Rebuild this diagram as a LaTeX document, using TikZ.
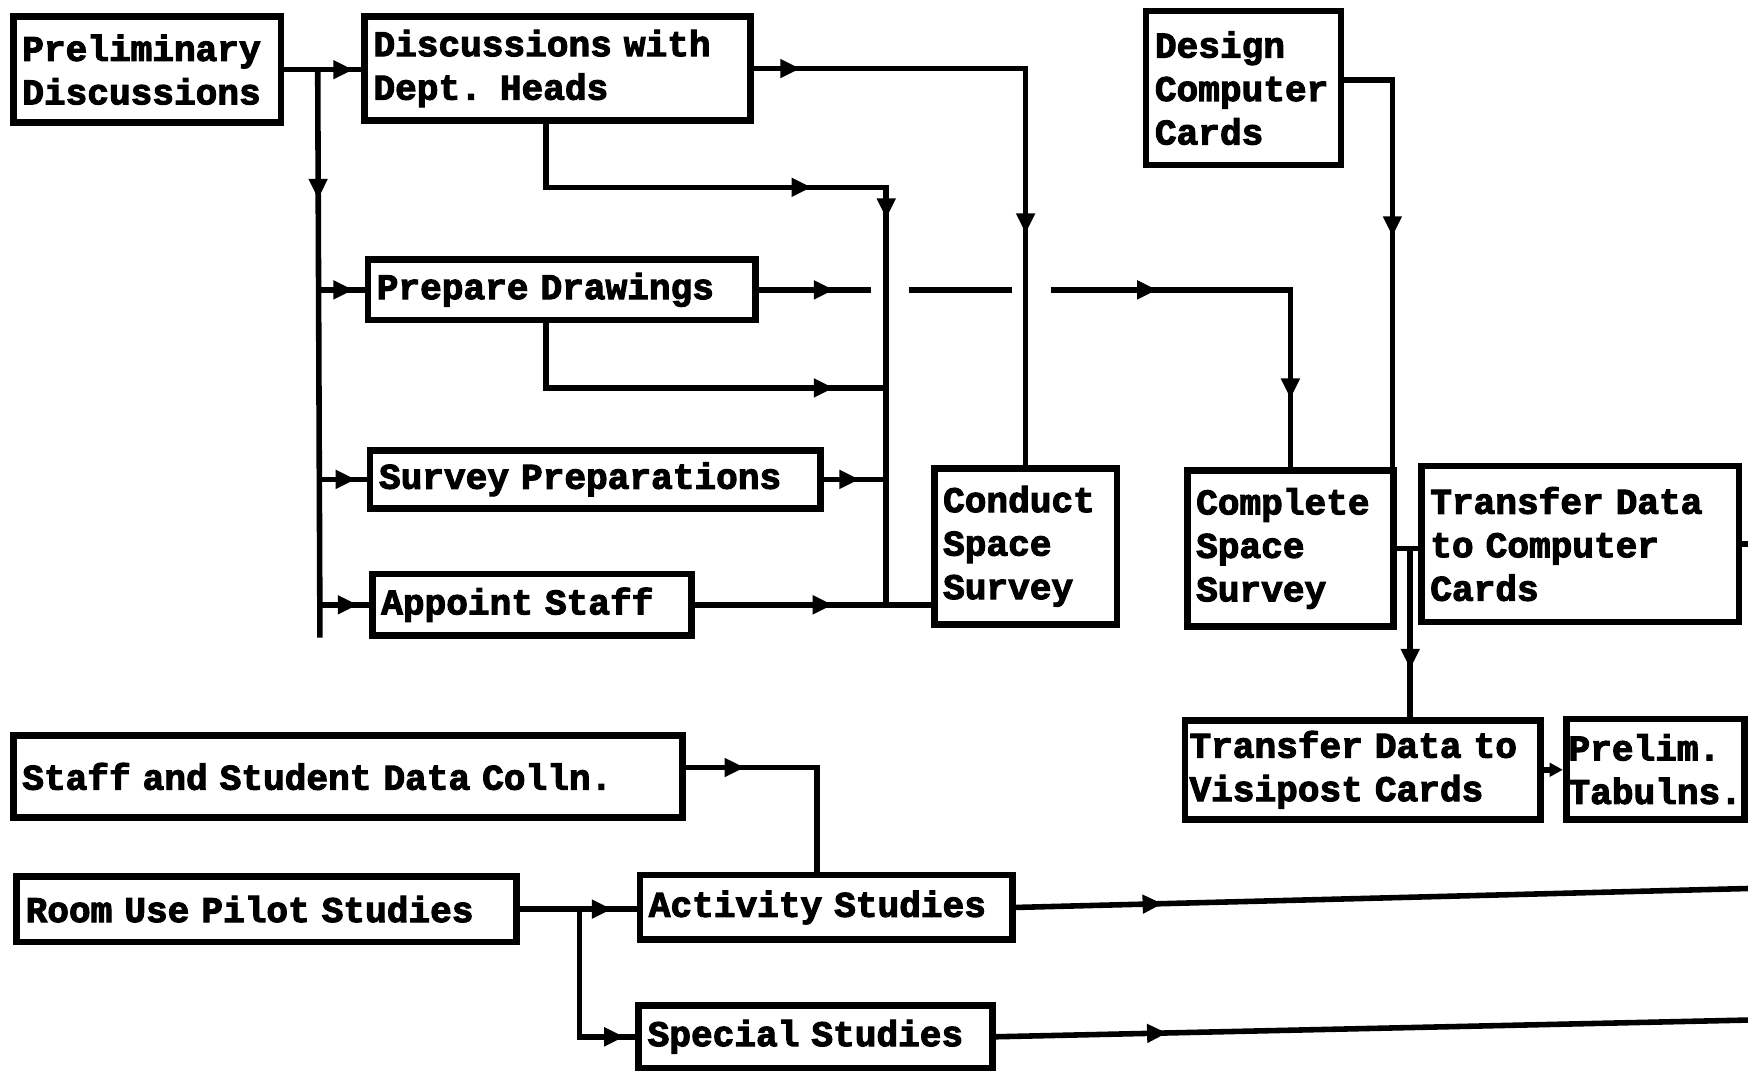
\documentclass[tikz,border=0pt]{standalone}
\usepackage{fontspec}
\newfontfamily\tw{Liberation Mono}[BoldFeatures={FakeBold=3}]
\usetikzlibrary{arrows.meta,decorations.markings}
\tikzset{
  box/.style={draw, line width=3pt, align=left, inner xsep=4pt, inner ysep=2pt,
    font=\tw\bfseries\fontsize{16.2}{19.5}\selectfont},
  conn/.style={line width=2.5pt},
  am/.style={postaction={decorate, decoration={markings,
      mark=at position #1 with {\arrow{Triangle[length=9pt,width=8pt]}}}}},
}
\begin{document}
\begin{tikzpicture}[x=0.5pt, y=-0.5pt]
\fill[white] (0,0) rectangle (1568,960);
\useasboundingbox (0,0) rectangle (1568,960);
% boxes
\node[box, minimum width=120pt, minimum height=47.5pt, text width=112pt] (prelim) at (132,62.5) {Preliminary\\Discussions};
\node[box, minimum width=173pt, minimum height=46.5pt, text width=165pt] (disc) at (500,61.5) {Discussions with\\Dept. Heads};
\node[box, minimum width=87.5pt, minimum height=69pt, text width=79.5pt] (design) at (1115.5,79) {Design\\Computer\\Cards};
\node[box, minimum width=174pt, minimum height=27pt, text width=166pt] (prep) at (504,260) {Prepare Drawings};
\node[box, minimum width=202pt, minimum height=26pt, text width=194pt] (survey) at (534,430) {Survey Preparations};
\node[box, minimum width=143pt, minimum height=27.5pt, text width=135pt] (appoint) at (477,542.5) {Appoint Staff};
\node[box, minimum width=82pt, minimum height=70pt, text width=74pt] (conduct) at (920,490) {Conduct\\Space\\Survey};
\node[box, minimum width=92.5pt, minimum height=70pt, text width=84.5pt] (complete) at (1157.5,492) {Complete\\Space\\Survey};
\node[box, minimum width=142.5pt, minimum height=70pt, text width=134.5pt] (transfer) at (1417.5,488) {Transfer Data\\to Computer\\Cards};
\node[box, inner xsep=2pt, minimum width=159.5pt, minimum height=44.5pt, text width=155.5pt] (visipost) at (1222.5,690.5) {Transfer Data to\\Visipost Cards};
\node[box, inner xsep=1pt, minimum width=80pt, minimum height=45pt, text width=78pt] (tabulns) at (1485,690) {Prelim.\\Tabulns.};
\node[box, minimum width=300pt, minimum height=36.5pt, text width=292pt] (staff) at (312,696.5) {Staff and Student Data Colln.};
\node[box, minimum width=224pt, minimum height=29.5pt, text width=216pt] (room) at (239,815.5) {Room Use Pilot Studies};
\node[box, minimum width=167pt, minimum height=29pt, text width=159pt] (activity) at (741,814) {Activity Studies};
\node[box, minimum width=158.5pt, minimum height=28pt, text width=150.5pt] (special) at (731.5,930) {Special Studies};
% coordinates
\coordinate (tr) at (285,62.5);
\coordinate (trb) at (287,572);
\coordinate (cA) at (795,168);
\coordinate (cB) at (795,542.5);
\coordinate (cC) at (795,348);
\coordinate (jn) at (1265,492);
\coordinate (eK) at (1568,488);
\coordinate (rj) at (520,815.5);
\coordinate (eN) at (1568,797);
\coordinate (eO) at (1568,915);
% connectors
\draw[conn, am=31pt] (prelim.east) -- (prelim.east -| disc.west);
\draw[conn, am=58pt] (tr) -- (trb);
\draw[conn, am=-5pt] (tr |- prep.west) -- (prep.west);
\draw[conn, am=-5pt] (tr |- survey.west) -- (survey.west);
\draw[conn, am=-5pt] (tr |- appoint.west) -- (appoint.west);
\draw[conn, am=21pt, am=196pt] (disc.east) -| (conduct.north);
\draw[conn, am=147.5pt, am=195pt] ([xshift=-5pt]disc.south) |- (cA) -- (cB);
\draw[conn, am=158pt] ([xshift=-7pt]prep.south) |- (cC);
\draw[conn, am=-12pt] (survey.east) -- (survey.east -| cA);
\draw[conn, am=62pt] (appoint.east) -- (appoint.east -| conduct.west);
\draw[conn, dash pattern=on 50pt off 17pt on 46.5pt off 17.5pt on 600pt,
      am=33.5pt, am=178.5pt, am=287pt] (prep.east) -| (complete.north);
\draw[conn, am=91.5pt] ([yshift=3.5pt]design.east) -| ([xshift=-2pt]complete.north east);
\draw[conn] (complete.east) -- (complete.east -| transfer.west);
\draw[conn, am=54pt] (jn) -- (jn |- visipost.north);
\draw[conn, -{Triangle[length=6pt,width=6pt]}] (visipost.east) -- (visipost.east -| tabulns.west);
\draw[conn] (transfer.east) -- (eK);
\draw[conn, am=26.5pt] ([yshift=4pt]staff.east) -| ([xshift=-4pt]activity.north);
\draw[conn, am=-11pt] (room.east) -- (room.east -| activity.west);
\draw[conn, am=-5pt] (rj) |- (special.west);
\draw[conn, am=66pt] (activity.east) -- (eN);
\draw[conn, am=77pt] (special.east) -- (eO);
\end{tikzpicture}
\end{document}
